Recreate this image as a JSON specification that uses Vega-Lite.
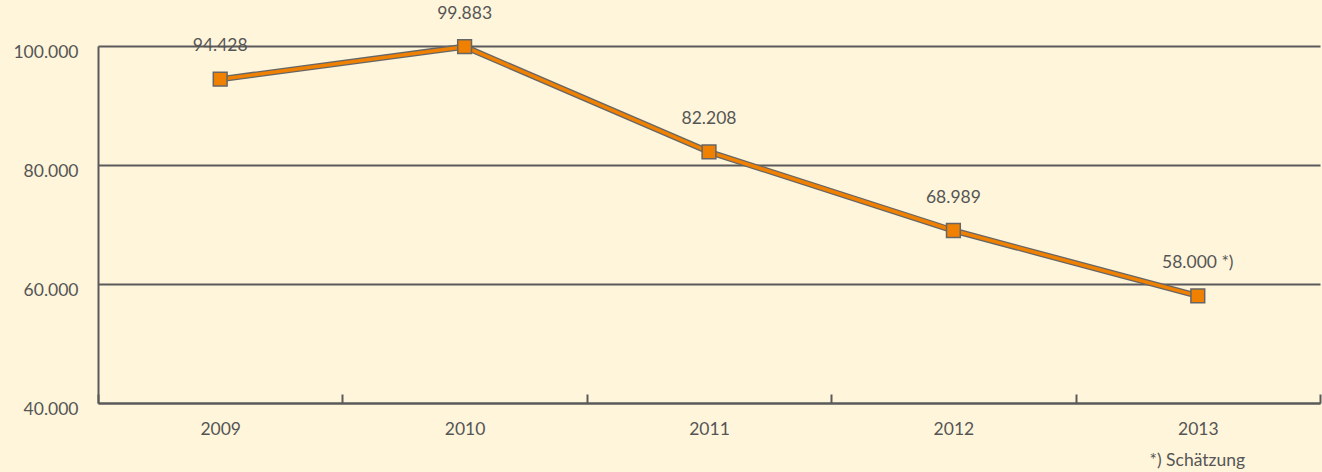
{
  "$schema": "https://vega.github.io/schema/vega-lite/v6.json",
  "description": "Line chart 2009-2013 with labelled square markers.",
  "width": 1222,
  "height": 357,
  "autosize": {"type": "none"},
  "padding": {"left": 98, "top": 46, "right": 2, "bottom": 69},
  "background": "#FFF5DB",
  "config": {
    "view": {"stroke": null},
    "font": "Lato",
    "axis": {
      "labelFont": "Lato",
      "labelFontSize": 17.5,
      "labelColor": "#555555",
      "domainColor": "#5A5A5A",
      "domainWidth": 2,
      "gridColor": "#5A5A5A",
      "gridWidth": 2,
      "tickColor": "#5A5A5A",
      "tickWidth": 2
    }
  },
  "data": {
    "values": [
      {"year": "2009", "value": 94428, "label": "94.428"},
      {"year": "2010", "value": 99883, "label": "99.883"},
      {"year": "2011", "value": 82208, "label": "82.208"},
      {"year": "2012", "value": 68989, "label": "68.989"},
      {"year": "2013", "value": 58000, "label": "58.000 *)"}
    ]
  },
  "encoding": {
    "x": {
      "field": "year",
      "type": "ordinal",
      "bandPosition": 0.5,
      "scale": {"type": "band", "paddingInner": 0, "paddingOuter": 0},
      "axis": {
        "title": "*) Schätzung",
        "titleFont": "Lato",
        "titleFontSize": 17.5,
        "titleFontWeight": "normal",
        "titleColor": "#555555",
        "titleAlign": "left",
        "titleBaseline": "middle",
        "titleX": 1051,
        "titleY": 57,
        "labelAngle": 0,
        "labelBaseline": "middle",
        "labelPadding": 35,
        "tickBand": "extent",
        "tickSize": -9,
        "grid": false
      }
    },
    "y": {
      "field": "value",
      "type": "quantitative",
      "scale": {"domain": [40000, 100000], "nice": false, "zero": false},
      "axis": {
        "title": null,
        "values": [40000, 60000, 80000, 100000],
        "labelExpr": "replace(format(datum.value, ','), ',', '.')",
        "ticks": false,
        "labelPadding": 20,
        "labelOffset": 6,
        "grid": true
      }
    }
  },
  "layer": [
    {"mark": {"type": "line", "color": "#666666", "strokeWidth": 6, "clip": false}},
    {"mark": {"type": "line", "color": "#F08000", "strokeWidth": 3.5, "clip": false}},
    {
      "mark": {
        "type": "point",
        "shape": "square",
        "filled": true,
        "size": 190,
        "color": "#F08000",
        "stroke": "#666666",
        "strokeWidth": 1.5,
        "opacity": 1,
        "clip": false
      }
    },
    {
      "mark": {
        "type": "text",
        "fontSize": 17.5,
        "color": "#555555",
        "baseline": "middle",
        "dy": -33
      },
      "encoding": {"text": {"field": "label"}}
    }
  ]
}
